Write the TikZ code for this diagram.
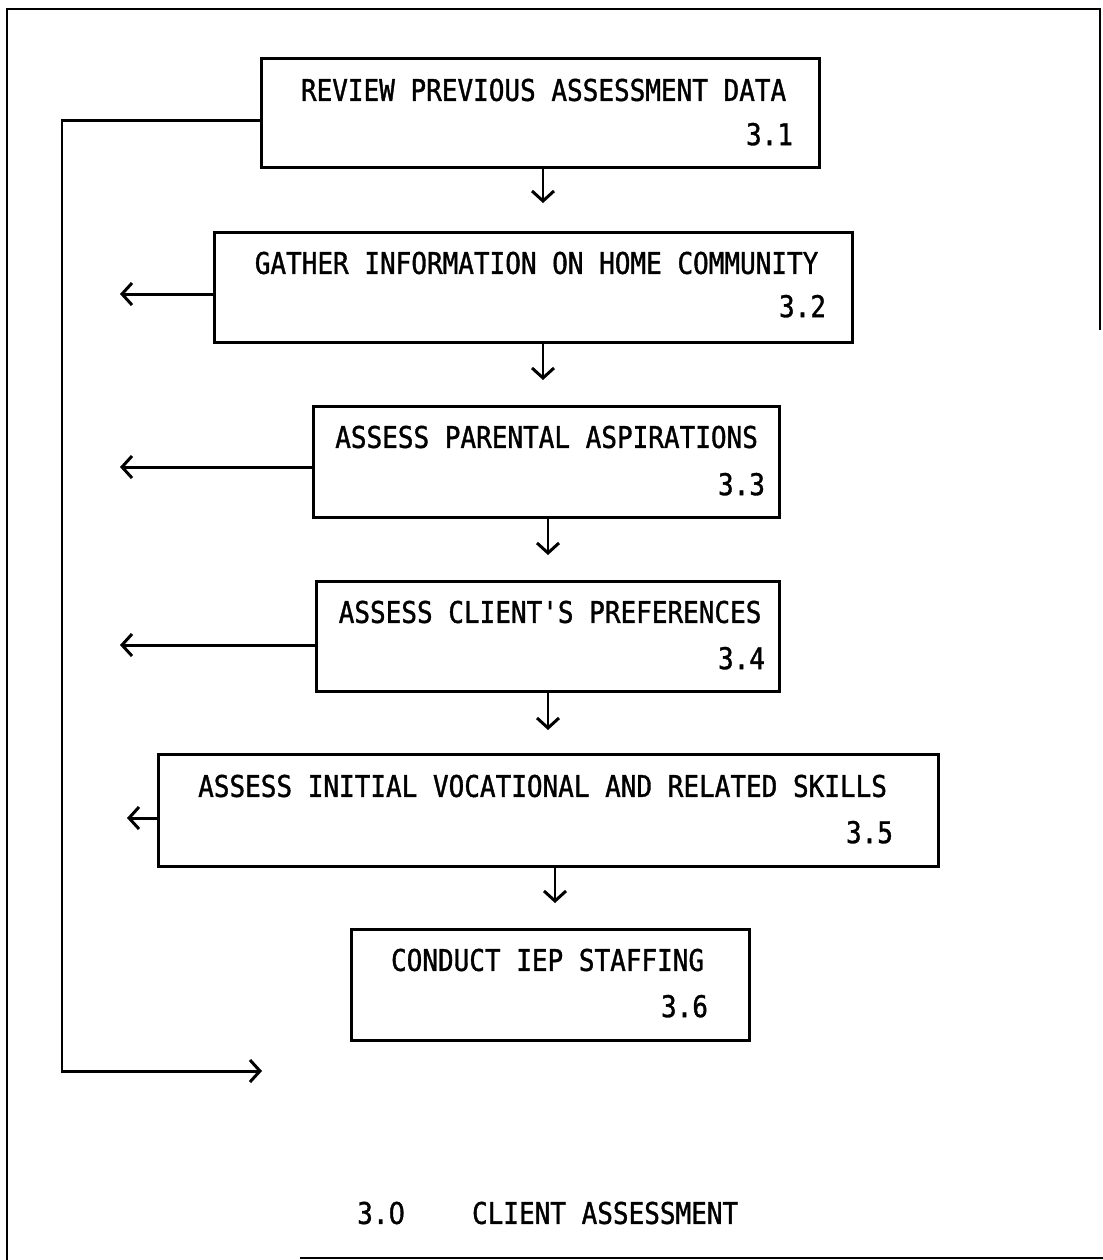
\documentclass[tikz,border=0pt]{standalone}
\usepackage{fontspec}
\newfontfamily\typefont[FakeStretch=0.87,FakeBold=1.2]{DejaVu Sans Mono}
\newfontfamily\zerofont[FakeStretch=0.87,FakeBold=1.2]{DejaVu Sans}
\usetikzlibrary{arrows.meta}
\begin{document}
\begin{tikzpicture}[x=1bp,y=-1bp,
  every node/.style={font=\typefont\fontsize{30}{32}\selectfont, inner sep=0pt},
  procbox/.style={draw, line width=3.2pt, anchor=north west},
  arr/.style={line width=3pt, -{Straight Barb[length=10bp,width=22bp,line width=3pt]}},
  frame/.style={line width=2.8pt}]
\useasboundingbox (0,0) rectangle (1103,1260);
% outer frame
\draw[frame] (1100,330) -- (1100,9) -- (7,9) -- (7,1260);
\draw[frame] (300,1258) -- (1103,1258);
% boxes
\node[procbox, minimum width=558bp, minimum height=109bp] (b1) at (260,57) {};
\node[procbox, minimum width=638bp, minimum height=110bp] (b2) at (213,231) {};
\node[procbox, minimum width=466bp, minimum height=111bp] (b3) at (312,405) {};
\node[procbox, minimum width=463bp, minimum height=110bp] (b4) at (315,580) {};
\node[procbox, minimum width=780bp, minimum height=112bp] (b5) at (157,753) {};
\node[procbox, minimum width=398bp, minimum height=111bp] (b6) at (350,928) {};
% titles
\node (t1) at ([xshift=3bp,yshift=-33bp]b1.north) {REVIEW PREVIOUS ASSESSMENT DATA};
\node (t2) at ([xshift=3bp,yshift=-32bp]b2.north) {GATHER INFORMATION ON HOME COMMUNITY};
\node (t3) at ([yshift=-32bp]b3.north) {ASSESS PARENTAL ASPIRATIONS};
\node (t4) at ([xshift=2bp,yshift=-32bp]b4.north) {ASSESS CLIENT'S PREFERENCES};
\node (t5) at ([xshift=-6bp,yshift=-33bp]b5.north) {ASSESS INITIAL VOCATIONAL AND RELATED SKILLS};
\node (t6) at ([xshift=-3bp,yshift=-32bp]b6.north) {CONDUCT IEP STAFFING};
% numbers
\node[anchor=east] (n1) at ([xshift=-28bp,yshift=35bp]b1.south east) {3.1};
\node[anchor=east] (n2) at ([xshift=-28bp,yshift=38bp]b2.south east) {3.2};
\node[anchor=east] (n3) at ([xshift=-16bp,yshift=35bp]b3.south east) {3.3};
\node[anchor=east] (n4) at ([xshift=-16bp,yshift=35bp]b4.south east) {3.4};
\node[anchor=east] (n5) at ([xshift=-47bp,yshift=36bp]b5.south east) {3.5};
\node[anchor=east] (n6) at ([xshift=-43bp,yshift=36bp]b6.south east) {3.6};
% caption
\node[anchor=west] (cap) at (357,1213) {3.{\zerofont 0}\hspace{67bp}CLIENT ASSESSMENT};
% down arrows
\coordinate (d1) at (543,203);
\coordinate (d2) at (543,380);
\coordinate (d3) at (548,555);
\coordinate (d4) at (548,730);
\coordinate (d5) at (555,903);
\draw[arr] (b1.south -| d1) -- (d1);
\draw[arr] (b2.south -| d2) -- (d2);
\draw[arr] (b3.south -| d3) -- (d3);
\draw[arr] (b4.south -| d4) -- (d4);
\draw[arr] (b5.south -| d5) -- (d5);
% left arrows
\coordinate (l2) at (120,294);
\coordinate (l3) at (120,467);
\coordinate (l4) at (120,645);
\coordinate (l5) at (127,818);
\draw[arr] (b2.west |- l2) -- (l2);
\draw[arr] (b3.west |- l3) -- (l3);
\draw[arr] (b4.west |- l4) -- (l4);
\draw[arr] (b5.west |- l5) -- (l5);
% feedback line
\coordinate (fb) at (62,120);
\coordinate (fe) at (262,1071);
\draw[arr] (b1.west |- fb) -- (fb) -- (fb |- fe) -- (fe);
\end{tikzpicture}
\end{document}
